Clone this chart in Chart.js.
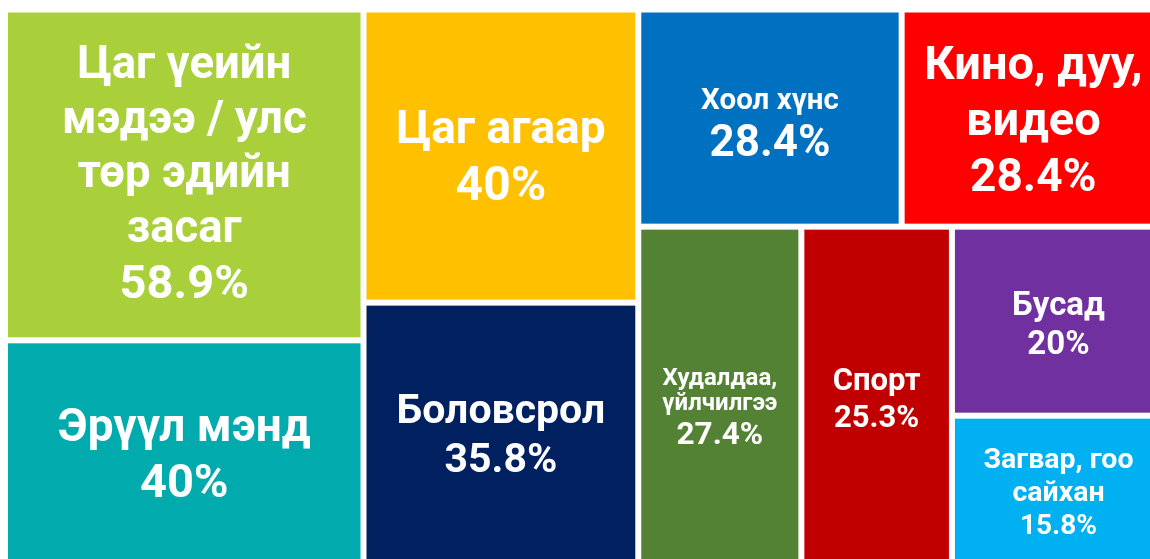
<!DOCTYPE html>
<html>
<head>
<meta charset="utf-8">
<script src="https://cdn.jsdelivr.net/npm/chart.js@4"></script>
<style>
  html, body { margin: 0; padding: 0; background: #fff; overflow: hidden; }
  #wrap { width: 1165px; height: 565px; }
</style>
</head>
<body>
<div id="wrap"><canvas id="treemapChart"></canvas></div>
<script>
const categories = [
  ['Цаг үеийн', 'мэдээ / улс', 'төр эдийн', 'засаг'],
  ['Эрүүл мэнд'],
  ['Цаг агаар'],
  ['Боловсрол'],
  ['Хоол хүнс'],
  ['Кино, дуу,', 'видео'],
  ['Худалдаа,', 'үйлчилгээ'],
  ['Спорт'],
  ['Бусад'],
  ['Загвар, гоо', 'сайхан']
];
const shares = [58.9, 40, 40, 35.8, 28.4, 28.4, 27.4, 25.3, 20, 15.8];

// how the tiles are nested: columns, then rows, alternating
const tiling = [[0, 1], [2, 3], [[4, 5], [6, 7, [8, 9]]]];

const colors = ['#A9D03B', '#00AAAD', '#FFC000', '#002060', '#0070C0',
  '#FF0000', '#548235', '#C00000', '#7030A0', '#00B0F0'];
const labelSizes = [45.5, 46, 46, 41, 29.5, 47, 24, 31, 33, 28.5];
const valueSizes = [47, 47, 48, 41, 44, 46, 31.5, 31, 33, 28];
const labelLeading = [1.2, 1.2, 1.2, 1.2, 1.1, 1.2, 1.05, 1.2, 1.15, 1.15];
const textShift = [0, 3, 2, 2, 9, 3, 14, 4, 4, 3];

function nodeSum(node) {
  return Array.isArray(node) ? node.reduce((s, n) => s + nodeSum(n), 0) : shares[node];
}

function splitNode(node, box, horizontal, out) {
  if (!Array.isArray(node)) {
    out[node] = box;
    return;
  }
  const total = nodeSum(node);
  let pos = horizontal ? box.x0 : box.y0;
  node.forEach(child => {
    const frac = nodeSum(child) / total;
    let sub;
    if (horizontal) {
      const w = (box.x1 - box.x0) * frac;
      sub = { x0: pos, x1: pos + w, y0: box.y0, y1: box.y1 };
      pos += w;
    } else {
      const h = (box.y1 - box.y0) * frac;
      sub = { x0: box.x0, x1: box.x1, y0: pos, y1: pos + h };
      pos += h;
    }
    splitNode(child, sub, !horizontal, out);
  });
}

const treemapPlugin = {
  id: 'treemapTiles',
  afterDatasetsDraw(chart) {
    const { ctx, scales: { x, y } } = chart;
    const boxes = [];
    splitNode(tiling, { x0: 0, x1: 1, y0: 0, y1: 1 }, true, boxes);
    const gap = 3;

    ctx.save();
    boxes.forEach((b, i) => {
      const left = x.getPixelForValue(b.x0) + gap;
      const right = x.getPixelForValue(b.x1) - gap;
      const top = y.getPixelForValue(b.y0) + gap;
      const bottom = y.getPixelForValue(b.y1) - gap;
      ctx.fillStyle = colors[i];
      ctx.fillRect(left, top, right - left, bottom - top);

      const lines = categories[i].map(t => ({ text: t, size: labelSizes[i], lh: labelLeading[i] }));
      lines.push({ text: shares[i] + '%', size: valueSizes[i], lh: 1.2 });
      const heights = lines.map(l => l.size * l.lh);
      const blockH = heights.reduce((a, c) => a + c, 0);
      let cy = (top + bottom) / 2 - blockH / 2 + textShift[i];
      const cx = (left + right) / 2;

      ctx.fillStyle = '#ffffff';
      ctx.textAlign = 'center';
      ctx.textBaseline = 'middle';
      lines.forEach((l, k) => {
        ctx.font = 'bold ' + l.size + 'px Roboto';
        ctx.fillText(l.text, cx, cy + heights[k] / 2 + l.size * 0.04);
        cy += heights[k];
      });
    });
    ctx.restore();
  }
};

new Chart(document.getElementById('treemapChart'), {
  type: 'scatter',
  data: { datasets: [{ data: [] }] },
  options: {
    responsive: true,
    maintainAspectRatio: false,
    animation: false,
    layout: { padding: { left: 5, top: 9.5, right: 0, bottom: 0 } },
    plugins: { legend: { display: false }, tooltip: { enabled: false } },
    scales: {
      x: { type: 'linear', min: 0, max: 1, display: false },
      y: { type: 'linear', min: 0, max: 1, reverse: true, display: false }
    }
  },
  plugins: [treemapPlugin]
});
</script>
</body>
</html>
